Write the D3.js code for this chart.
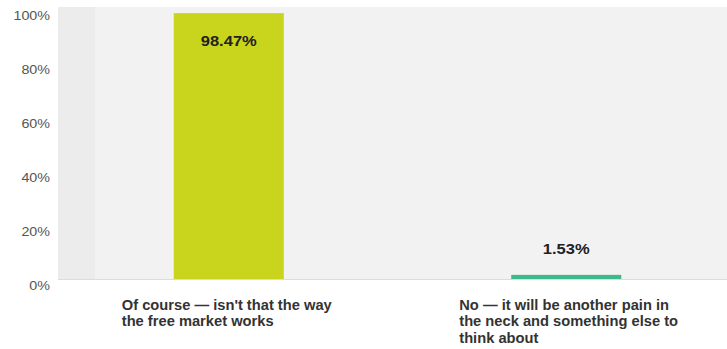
<!DOCTYPE html>
<html>
<head>
<meta charset="utf-8">
<script src="https://cdn.jsdelivr.net/npm/d3@7"></script>
<style>
  html, body { margin: 0; padding: 0; background: #ffffff; }
  svg { display: block; }
  text { font-family: "Liberation Sans", Arial, sans-serif; }
</style>
</head>
<body>
<svg id="chart" width="727" height="349"></svg>
<script>
// Survey answers and their shares (percent)
const categories = [
  ["Of course — isn't that the way", "the free market works"],
  ["No — it will be another pain in", "the neck and something else to", "think about"]
];
const values = [98.47, 1.53];
const barColors = ["#c9d41c", "#3dba8c"];
const tickValues = [0, 20, 40, 60, 80, 100];

const svg = d3.select("#chart");
const W = 727, H = 349;
const margin = { top: 9, right: 0, bottom: 70, left: 60 };
const innerW = W - margin.left - margin.right;
const innerH = H - margin.top - margin.bottom;

const g = svg.append("g").attr("transform", `translate(${margin.left},${margin.top})`);

const x = d3.scaleBand().domain(d3.range(values.length)).range([0, 675]).padding(0);
const y = d3.scaleLinear().domain([0, 100]).range([innerH, 0]);

// draws a text stretched horizontally around its anchor point
function wideText(sel, sx) {
  sel.each(function () {
    const t = d3.select(this);
    const tx = +t.attr("x"), ty = +t.attr("y");
    t.attr("x", 0).attr("y", 0)
      .attr("transform", `translate(${tx},${ty}) scale(${sx},1)`);
    t.selectAll("tspan").attr("x", 0);
  });
}

// plot background
g.append("rect").attr("x", -2).attr("y", -2).attr("width", innerW + 2).attr("height", innerH + 2)
  .attr("fill", "#f2f2f2");
g.append("rect").attr("x", -2).attr("y", -2).attr("width", 37).attr("height", innerH + 2)
  .attr("fill", "#e8e8e8").attr("opacity", 0.6);

// baseline
g.append("line").attr("x1", -2).attr("x2", innerW).attr("y1", innerH + 0.5).attr("y2", innerH + 0.5)
  .attr("stroke", "#dcdcdc");

// y axis labels
const yAxis = d3.axisLeft(y).tickValues(tickValues).tickFormat(d => d + "%").tickSize(0).tickPadding(10);
const ya = g.append("g").call(yAxis);
ya.select(".domain").remove();
ya.selectAll(".tick text")
  .attr("font-size", 13).attr("fill", "#555").attr("dy", null)
  .style("font-family", "'Liberation Sans', Arial, sans-serif")
  .attr("y", 10.5)
  .call(wideText, 1.1);

const barW = x.bandwidth() * 0.326;
const cx = i => x(i) + x.bandwidth() / 2;

// bars
g.selectAll(".bar").data(values).join("rect")
  .attr("class", "bar")
  .attr("x", (d, i) => cx(i) - barW / 2)
  .attr("y", d => y(d))
  .attr("width", barW)
  .attr("height", d => innerH - y(d))
  .attr("fill", (d, i) => barColors[i]);

// value labels: inside tall bars, above short ones
g.selectAll(".val").data(values).join("text")
  .attr("class", "val")
  .attr("x", (d, i) => cx(i))
  .attr("y", d => (innerH - y(d) > 40 ? y(d) + 32.5 : y(d) - 20.5))
  .attr("text-anchor", "middle")
  .attr("font-size", 14).attr("font-weight", "bold").attr("fill", "#222")
  .text(d => d.toFixed(2) + "%")
  .call(wideText, 1.18);

// category labels
const cat = g.selectAll(".cat").data(categories).join("text")
  .attr("class", "cat")
  .attr("x", (d, i) => cx(i) - 107)
  .attr("y", innerH + 31)
  .attr("font-size", 14).attr("fill", "#333").attr("font-weight", "bold");
cat.selectAll("tspan").data(d => d).join("tspan")
  .attr("dy", (d, i) => i === 0 ? 0 : 16.5)
  .text(d => d);
cat.call(wideText, 1.05);
</script>
</body>
</html>
